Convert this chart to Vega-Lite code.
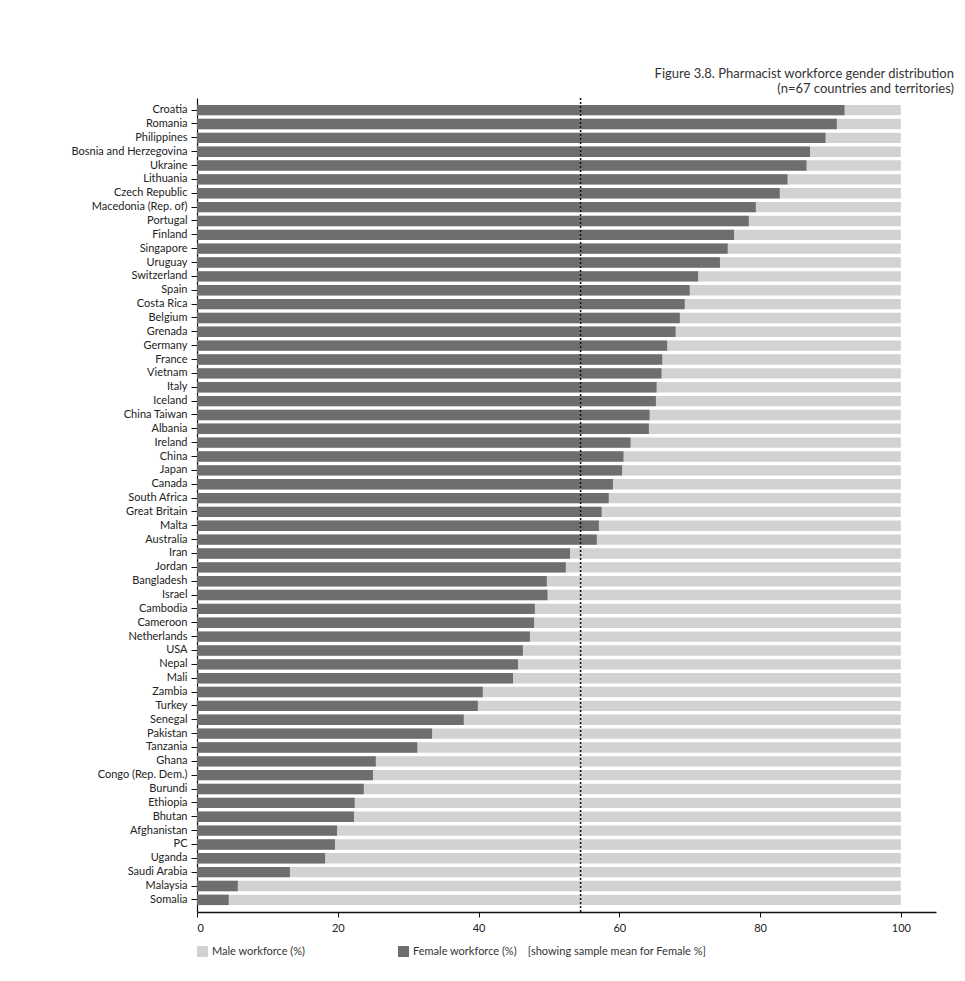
{
  "$schema": "https://vega.github.io/schema/vega-lite/v6.json",
  "autosize": {"type": "none"},
  "padding": {"left": 197, "top": 98, "right": 29, "bottom": 69},
  "width": 739,
  "height": 814,
  "background": "white",
  "config": {
    "font": "Lato",
    "view": {"stroke": null},
    "axis": {"labelFont": "Lato", "titleFont": "Lato", "domainColor": "#111", "tickColor": "#111", "labelColor": "#222", "grid": false}
  },
  "title": {
    "text": ["Figure 3.8. Pharmacist workforce gender distribution", "(n=67 countries and territories)"],
    "anchor": "end",
    "frame": "group",
    "dx": 18,
    "offset": 1,
    "fontSize": 13,
    "fontWeight": "normal",
    "color": "#333",
    "lineHeight": 15,
    "font": "Lato"
  },
  "datasets": {
    "gender": [
      {"country": "Croatia", "female": 92.0},
      {"country": "Romania", "female": 90.9},
      {"country": "Philippines", "female": 89.3},
      {"country": "Bosnia and Herzegovina", "female": 87.1},
      {"country": "Ukraine", "female": 86.6},
      {"country": "Lithuania", "female": 83.9},
      {"country": "Czech Republic", "female": 82.8},
      {"country": "Macedonia (Rep. of)", "female": 79.4},
      {"country": "Portugal", "female": 78.4},
      {"country": "Finland", "female": 76.3},
      {"country": "Singapore", "female": 75.4},
      {"country": "Uruguay", "female": 74.3},
      {"country": "Switzerland", "female": 71.2},
      {"country": "Spain", "female": 70.0},
      {"country": "Costa Rica", "female": 69.3},
      {"country": "Belgium", "female": 68.6},
      {"country": "Grenada", "female": 68.0},
      {"country": "Germany", "female": 66.8},
      {"country": "France", "female": 66.1},
      {"country": "Vietnam", "female": 66.0},
      {"country": "Italy", "female": 65.3},
      {"country": "Iceland", "female": 65.2},
      {"country": "China Taiwan", "female": 64.3},
      {"country": "Albania", "female": 64.2},
      {"country": "Ireland", "female": 61.6},
      {"country": "China", "female": 60.6},
      {"country": "Japan", "female": 60.4},
      {"country": "Canada", "female": 59.1},
      {"country": "South Africa", "female": 58.5},
      {"country": "Great Britain", "female": 57.5},
      {"country": "Malta", "female": 57.1},
      {"country": "Australia", "female": 56.8},
      {"country": "Iran", "female": 53.0},
      {"country": "Jordan", "female": 52.4},
      {"country": "Bangladesh", "female": 49.7},
      {"country": "Israel", "female": 49.8},
      {"country": "Cambodia", "female": 48.0},
      {"country": "Cameroon", "female": 47.9},
      {"country": "Netherlands", "female": 47.3},
      {"country": "USA", "female": 46.3},
      {"country": "Nepal", "female": 45.6},
      {"country": "Mali", "female": 44.9},
      {"country": "Zambia", "female": 40.6},
      {"country": "Turkey", "female": 39.9},
      {"country": "Senegal", "female": 37.9},
      {"country": "Pakistan", "female": 33.4},
      {"country": "Tanzania", "female": 31.3},
      {"country": "Ghana", "female": 25.4},
      {"country": "Congo (Rep. Dem.)", "female": 25.0},
      {"country": "Burundi", "female": 23.7},
      {"country": "Ethiopia", "female": 22.4},
      {"country": "Bhutan", "female": 22.3},
      {"country": "Afghanistan", "female": 19.9},
      {"country": "PC", "female": 19.6},
      {"country": "Uganda", "female": 18.2},
      {"country": "Saudi Arabia", "female": 13.2},
      {"country": "Malaysia", "female": 5.8},
      {"country": "Somalia", "female": 4.5}
    ],
    "meanline": [{"mean": 54.5}]
  },
  "layer": [
    {
      "data": {"name": "gender"},
      "mark": {"type": "bar"},
      "encoding": {
        "y": {"field": "country", "type": "nominal", "sort": null,
              "scale": {"paddingInner": 0.25, "paddingOuter": 0.5},
              "axis": {"title": null, "labelFontSize": 11, "tickSize": 6, "labelPadding": 4, "domainWidth": 1.2}},
        "x": {"datum": 100, "type": "quantitative",
              "scale": {"domain": [0, 105], "nice": false},
              "axis": {"title": null, "values": [0, 20, 40, 60, 80, 100], "labelFontSize": 11, "tickSize": 5, "labelPadding": 5, "domainWidth": 1.5}},
        "color": {"datum": "Male workforce (%)", "type": "nominal",
                  "scale": {"domain": ["Male workforce (%)", "Female workforce (%)"], "range": ["#d2d2d2", "#6e6e6e"]},
                  "legend": {"title": null, "orient": "none", "legendX": 0, "legendY": 848, "direction": "horizontal",
                             "symbolType": "square", "symbolSize": 120, "symbolStrokeWidth": 0, "labelFontSize": 11,
                             "labelLimit": 400, "columnPadding": 92, "labelColor": "#333",
                             "labelExpr": "datum.label == 'Female workforce (%)' ? 'Female workforce (%)\u00a0\u00a0\u00a0\u00a0[showing sample mean for Female %]' : datum.label"}}
      }
    },
    {
      "data": {"name": "gender"},
      "mark": {"type": "bar"},
      "encoding": {
        "y": {"field": "country", "type": "nominal", "sort": null},
        "x": {"field": "female", "type": "quantitative"},
        "color": {"datum": "Female workforce (%)", "type": "nominal"}
      }
    },
    {
      "data": {"name": "meanline"},
      "mark": {"type": "rule", "color": "#111", "strokeDash": [2, 2], "strokeWidth": 1.5},
      "encoding": {
        "x": {"field": "mean", "type": "quantitative"}
      }
    }
  ]
}
